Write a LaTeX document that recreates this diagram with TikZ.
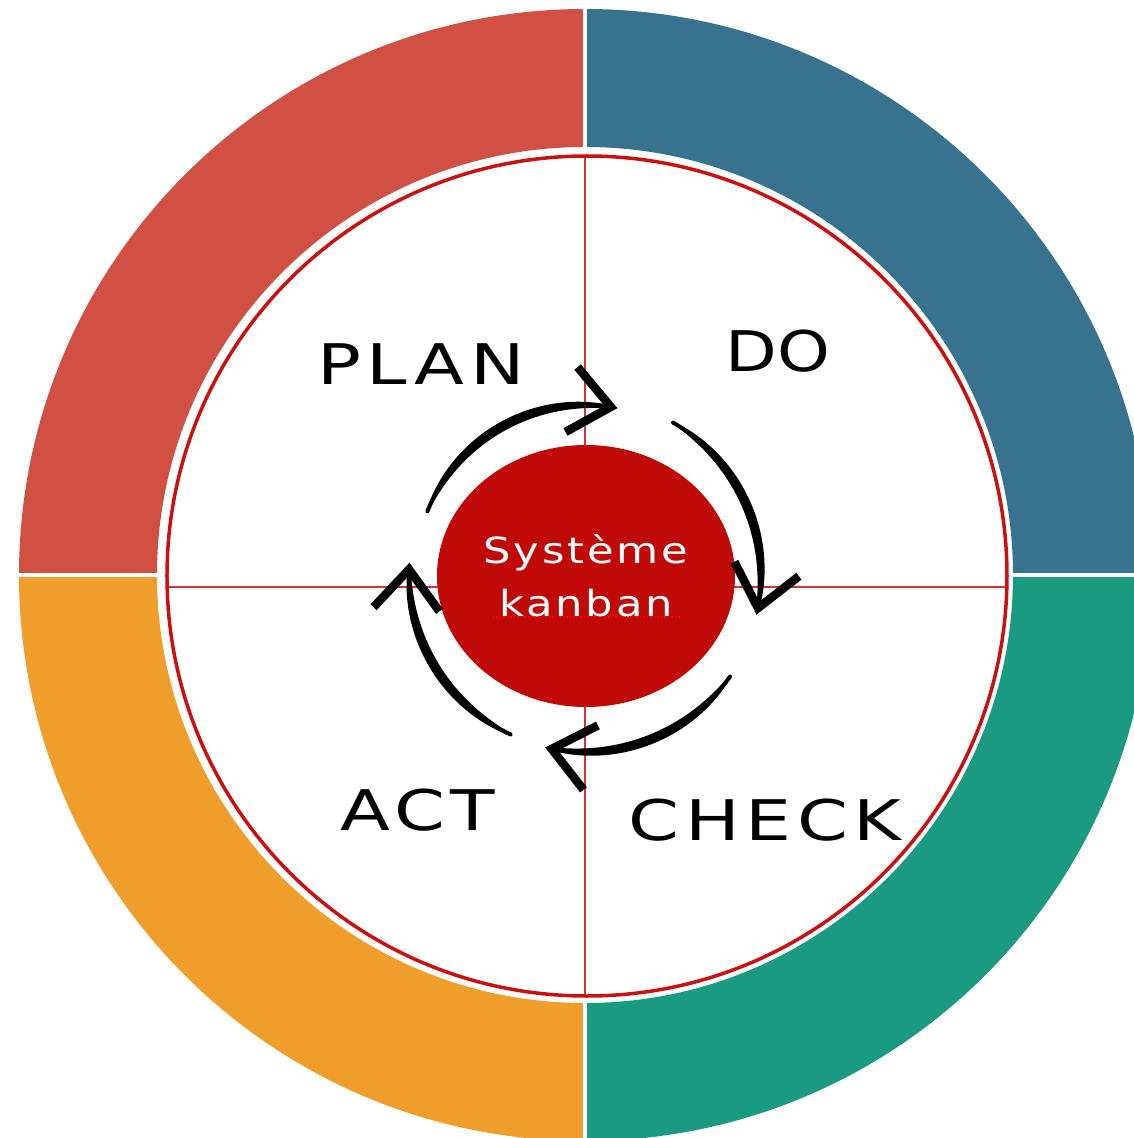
\documentclass[tikz,border=0pt]{standalone}
\usepackage{fontspec}
\newfontfamily\handfont[LetterSpace=10,FakeStretch=1.3]{DejaVu Sans}
\newfontfamily\handtight[FakeStretch=1.2]{DejaVu Sans}
\newfontfamily\handsmall[LetterSpace=8,FakeStretch=1.2]{DejaVu Sans}
\usetikzlibrary{arrows.meta,bending,shapes.geometric}
\definecolor{qred}{RGB}{209,80,68}
\definecolor{qblue}{RGB}{55,115,143}
\definecolor{qteal}{RGB}{26,154,128}
\definecolor{qorange}{RGB}{239,157,43}
\definecolor{kred}{RGB}{192,10,7}
\definecolor{lred}{RGB}{204,16,16}
\begin{document}
\begin{tikzpicture}[x=1pt,y=1pt,
  phase/.style={font=\handfont\fontsize{56}{60}\selectfont, text=black, inner sep=0pt},
  cyc/.style={line width=4pt, black, line cap=round,
    -{Straight Barb[length=40pt,width=66pt,line width=8.5pt,flex]}},
  brush/.style={fill=black},
  crossline/.style={lred, line width=1.6pt, opacity=0.85},
  hub/.style={ellipse, fill=kred, minimum width=298pt, minimum height=262pt, inner sep=0pt,
    text=white, align=center, font=\handsmall\fontsize{36}{53}\selectfont}]
\useasboundingbox (-585,-563) rectangle (549,575);
\clip (-585,-563) rectangle (549,575);
% outer ring quadrants
\fill[qred] (90:566) arc[start angle=90,end angle=180,radius=566] -- (180:428) arc[start angle=180,end angle=90,radius=428] -- cycle;
\fill[qblue] (0:566) arc[start angle=0,end angle=90,radius=566] -- (90:428) arc[start angle=90,end angle=0,radius=428] -- cycle;
\fill[qteal] (270:566) arc[start angle=270,end angle=360,radius=566] -- (0:428) arc[start angle=360,end angle=270,radius=428] -- cycle;
\fill[qorange] (180:566) arc[start angle=180,end angle=270,radius=566] -- (270:428) arc[start angle=270,end angle=180,radius=428] -- cycle;
\draw[white,line width=4pt] (-575,0) -- (575,0);
\draw[white,line width=4pt] (0,-575) -- (0,575);
% inner disc
\draw[lred,line width=3.5pt] (2,-1) circle[radius=420];
\draw[crossline] (-417,-12) -- (421,-12);
\draw[crossline] (0,419) -- (0,-421);
% hub
\node[hub] (hub) at (1,-1) {Système\\kanban};
\draw[red,dotted,line width=1.5pt] (-92,-42) -- (95,-42);
% labels
\node[phase] (plan) at (-164,211) {PLAN};
\node[phase,font=\handtight\fontsize{56}{60}\selectfont] (do) at (193,224) {DO};
\node[phase] (act) at (-167,-235) {ACT};
\node[phase] (check) at (180,-245) {CHECK};
% cycle arrows: brush-like tapered body
\foreach \a/\b/\r in {158/79/170, 60/-13/176, -35/-103/177, -115/-184/176}{
  \fill[brush] plot[domain=0:1,samples=41,smooth] ({\a+(\b-(\a))*\x}:{\r+4.8*sqrt(abs(sin(180*\x)))})
    -- plot[domain=1:0,samples=41,smooth] ({\a+(\b-(\a))*\x}:{\r-4.8*sqrt(abs(sin(180*\x)))}) -- cycle;
}
\coordinate (s1) at (158:170);
\coordinate (s2) at (60:176);
\coordinate (s3) at (-35:177);
\coordinate (s4) at (-115:176);
\draw[cyc] (s1) arc[start angle=158,end angle=79,radius=170] coordinate (t1);
\draw[cyc] (s2) arc[start angle=60,end angle=-13,radius=176] coordinate (t2);
\draw[cyc] (s3) arc[start angle=-35,end angle=-103,radius=177] coordinate (t3);
\draw[cyc] (s4) arc[start angle=-115,end angle=-184,radius=176] coordinate (t4);
\end{tikzpicture}
\end{document}
